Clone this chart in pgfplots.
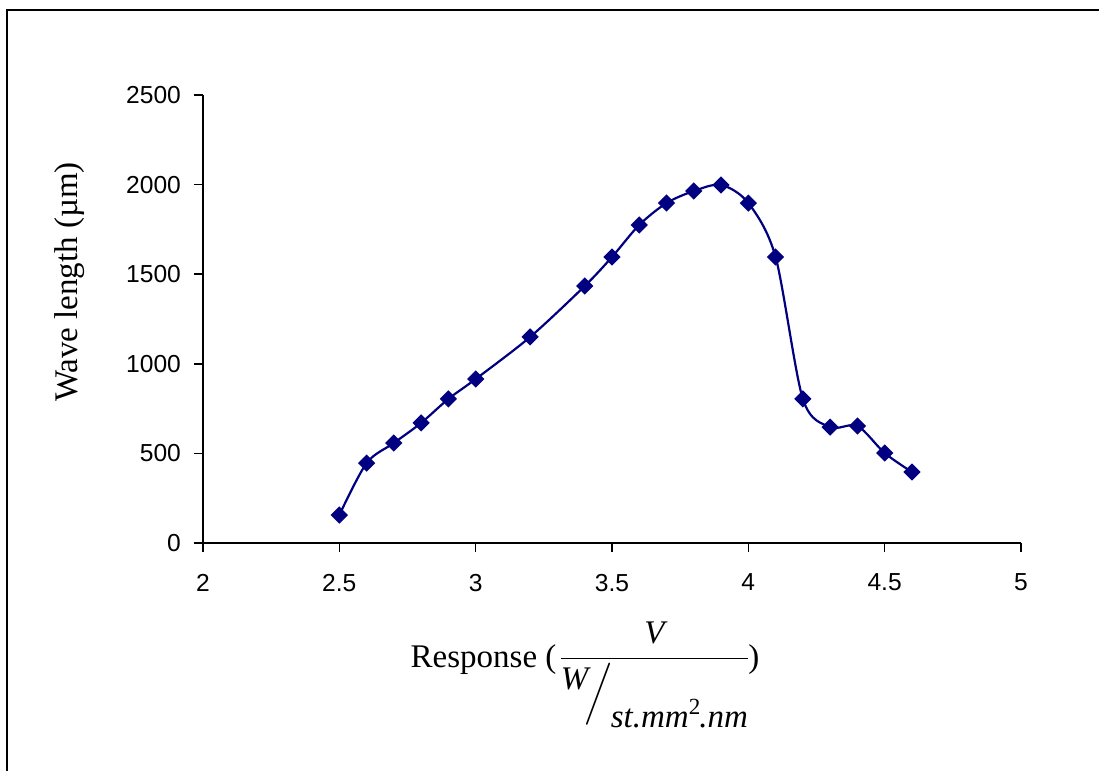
\documentclass[border=0pt]{standalone}
\usepackage{amsmath}
\usepackage{pgfplots}
\pgfplotsset{compat=1.18}
\usepackage{fontspec}
\setmainfont{Liberation Serif}
\newfontfamily\arial{Liberation Sans}
\definecolor{navy}{HTML}{000080}
\begin{document}
\begin{tikzpicture}
\useasboundingbox (-101.5pt,-114pt) rectangle (448pt,271.5pt);
\draw[line width=1.2pt] (-98pt,-120pt) -- (-98pt,266.5pt) -- (460pt,266.5pt);
\begin{axis}[
  scale only axis,
  width=409pt, height=224pt,
  xmin=2, xmax=5, ymin=0, ymax=2500,
  axis lines=left,
  axis line style={-, line width=0.8pt},
  xtick={2,2.5,...,5}, ytick={0,500,...,2500},
  tick align=outside,
  major tick length=4.5pt,
  tick style={line width=0.8pt, black},
  /pgf/number format/assume math mode=true,
  ticklabel style={font=\arial\fontsize{12.3}{14}\selectfont},
  xticklabel style={yshift=-7.5pt},
  yticklabel style={xshift=-3pt},
  /pgf/number format/.cd, 1000 sep={},
]
\addplot[color=navy, line width=1.1pt, smooth, tension=0.5,
  mark=square*, mark size=2.5pt, mark options={rotate=45, fill=navy}]
  coordinates {
  (2.5,156) (2.6,446) (2.7,558) (2.8,670) (2.9,804) (3.0,915)
  (3.2,1150) (3.4,1434) (3.5,1596) (3.6,1775) (3.7,1897) (3.8,1964)
  (3.9,1998) (4.0,1897) (4.1,1596) (4.2,804) (4.3,647) (4.4,653)
  (4.5,502) (4.6,396)
  };
\end{axis}
\node[rotate=90, font=\fontsize{16.5}{19}\selectfont] at (-66.5pt,130.5pt) {Wave length (µm)};
\node[font=\fontsize{16.5}{19}\selectfont] at (191pt,-66pt)
  {Response (\hspace{1pt}$\dfrac{\textit{V}}{\raisebox{0.9ex}{\textit{W}}\hspace{-3pt}\Big/\hspace{-1pt}\raisebox{-1.6ex}{\textit{st.mm}$^{\mathrm{2}}$\hspace{-1pt}\textit{.nm}}}$\hspace{-1pt})};
\end{tikzpicture}
\end{document}
